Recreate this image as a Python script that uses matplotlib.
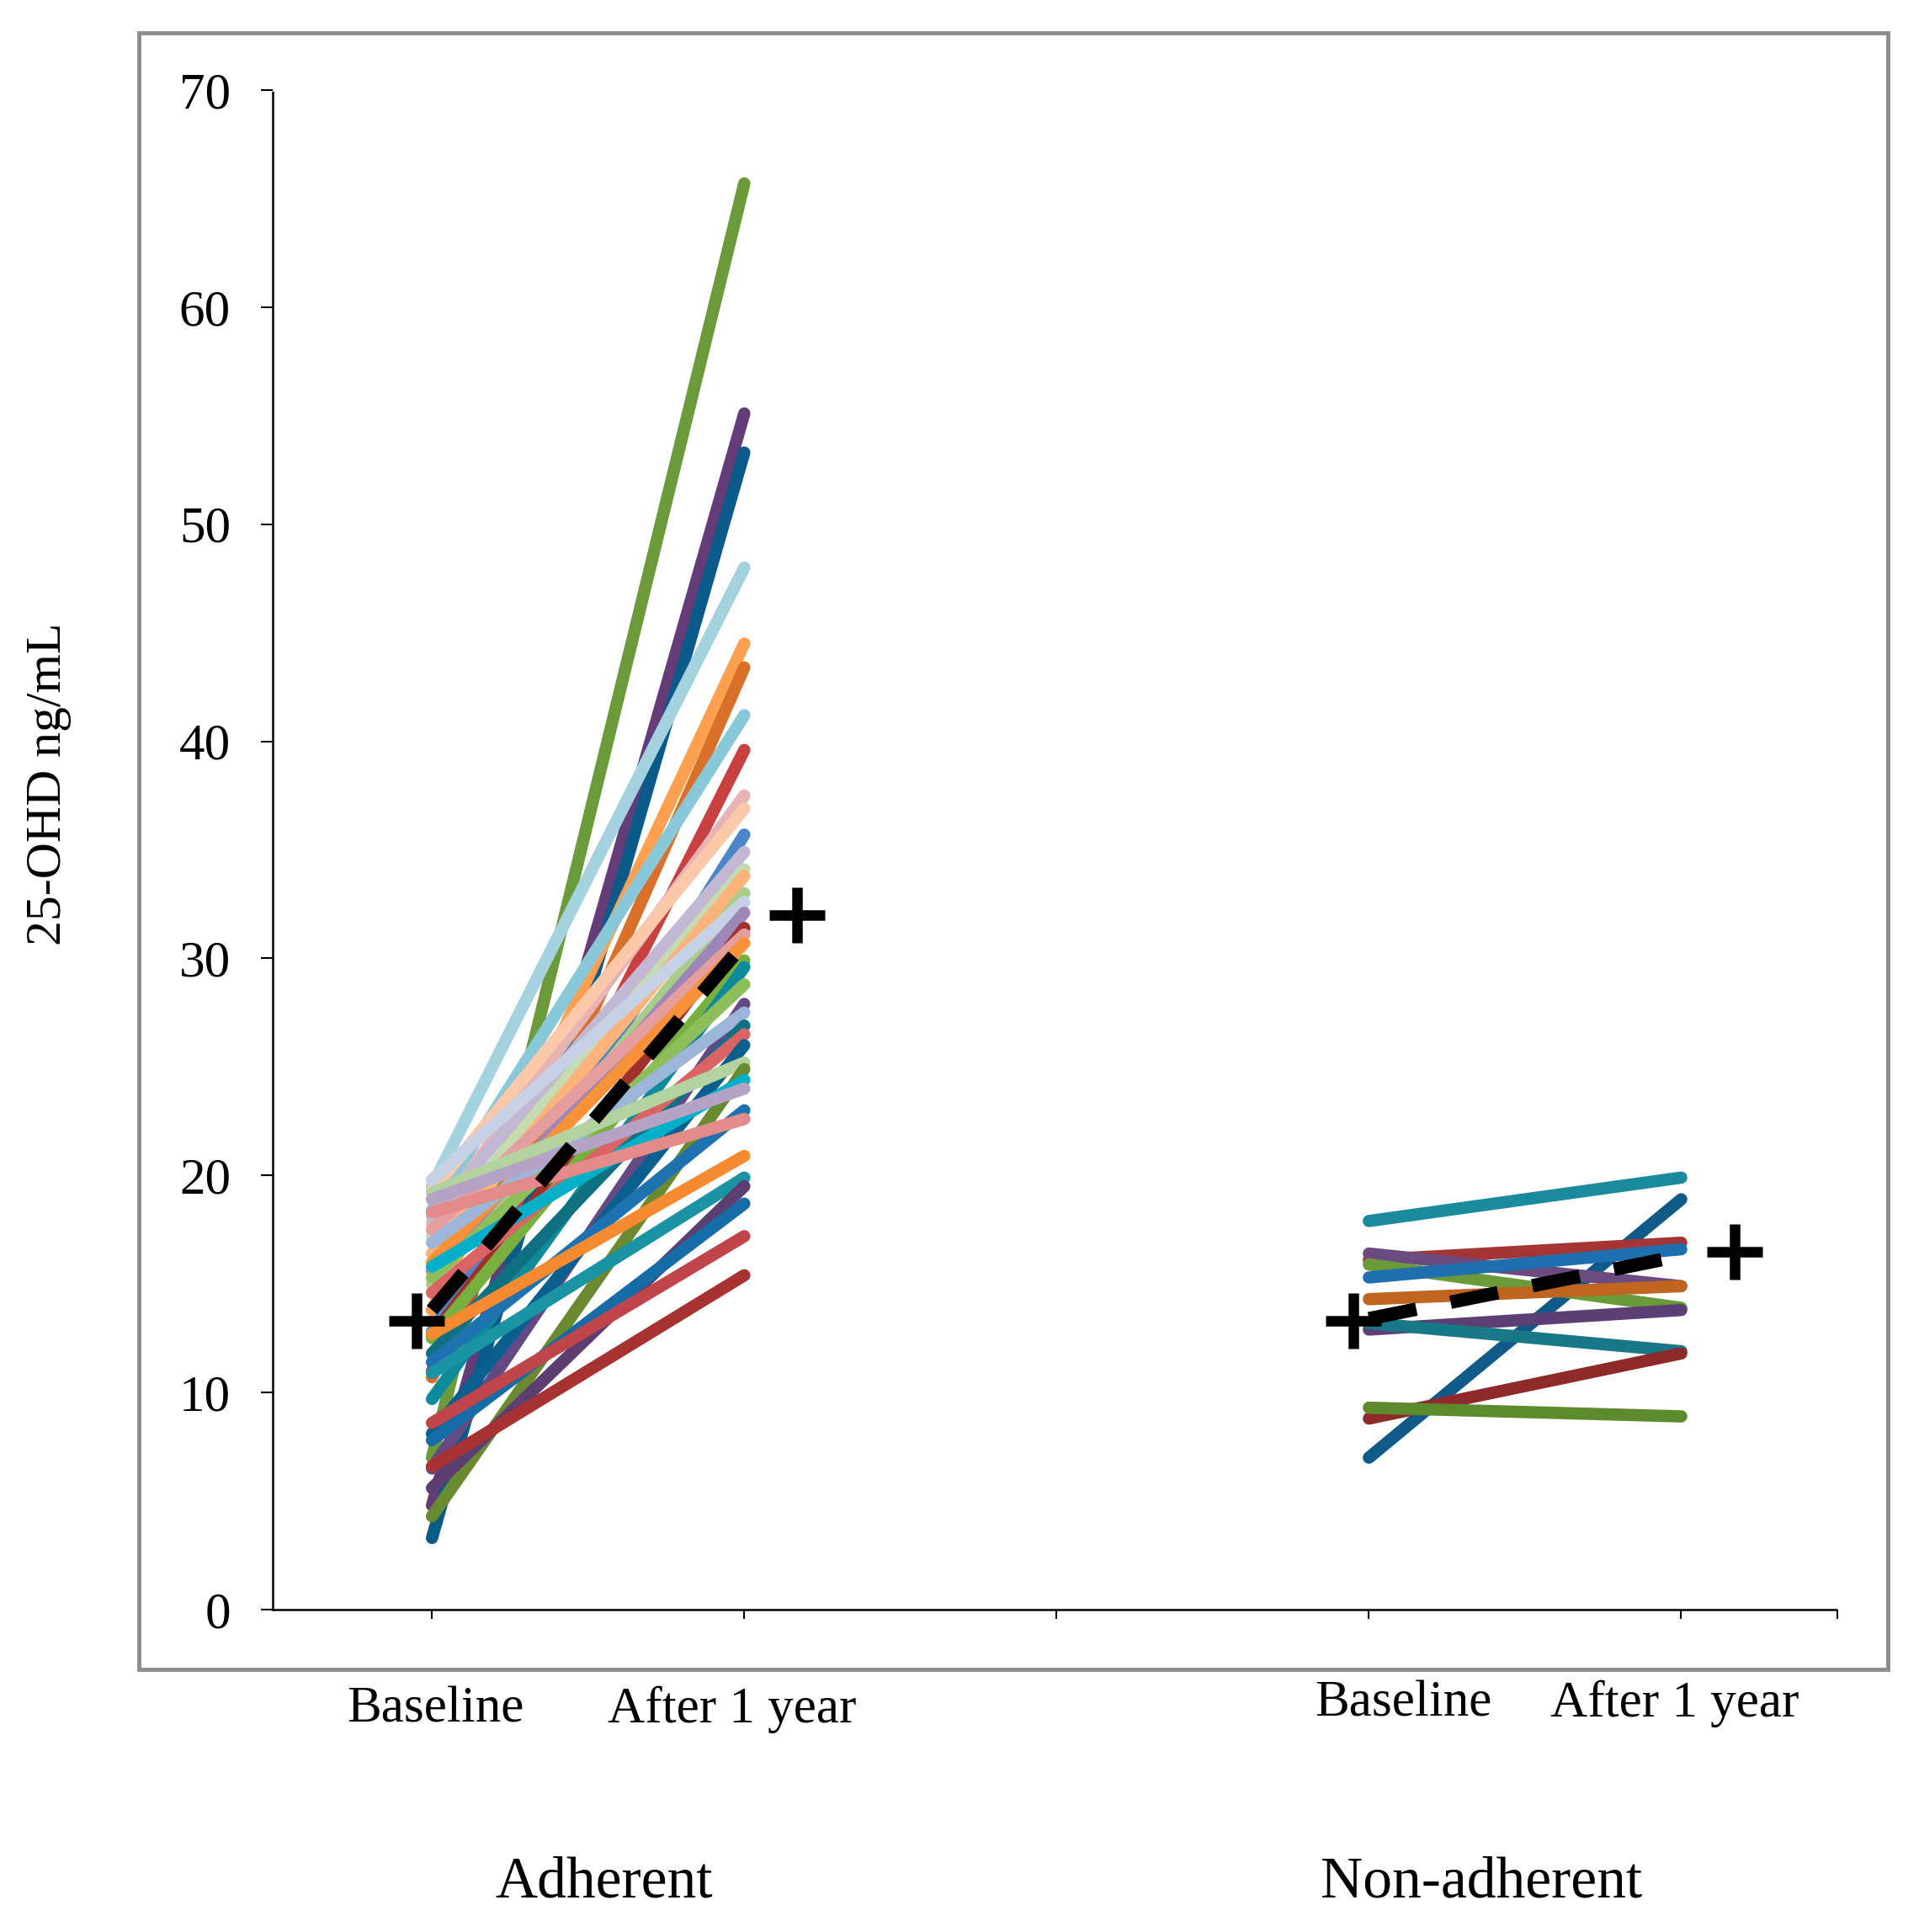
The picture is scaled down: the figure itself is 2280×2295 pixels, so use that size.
"""25-OHD before/after chart."""

import matplotlib

matplotlib.use("Agg")
from matplotlib import pyplot as plt
from matplotlib.patches import Rectangle

plt.rcParams["font.family"] = ["Liberation Serif", "DejaVu Serif"]

# category slots: 0,1 adherent / 3,4 non-adherent
period_labels = ["Baseline", "After 1 year", "Baseline", "After 1 year"]
group_labels = ["Adherent", "Non-adherent"]

# adherent patients
adh_baseline = [7.0, 4.8, 3.3, 19.5, 13.8, 10.7, 18.4, 11.0, 17.8, 19.3,
                12.8, 18.1, 17.2, 16.4, 15.0, 19.8, 15.6, 12.6, 17.5, 16.0,
                12.5, 9.7, 15.3, 6.5, 16.9, 11.8, 14.6, 8.1, 19.2, 4.3,
                15.8, 18.9, 11.4, 18.3, 12.7, 10.9, 5.6, 7.8, 8.6, 6.6]
adh_after = [65.7, 55.1, 53.3, 48.0, 44.5, 43.4, 41.2, 39.6, 37.5, 36.9,
             35.7, 34.9, 34.1, 33.8, 33.0, 32.6, 32.1, 31.4, 31.1, 30.7,
             29.9, 29.6, 28.8, 27.9, 27.5, 26.9, 26.5, 26.0, 25.2, 24.9,
             24.4, 24.0, 23.0, 22.6, 20.9, 19.9, 19.5, 18.7, 17.2, 15.4]
adh_colors = ["#6A9A3A", "#643C78", "#0A5A8A", "#A5D2DF", "#FF9F50",
              "#D8702A", "#89C8D8", "#C84040", "#E6B4B4", "#FCC8AA",
              "#4A86C8", "#C3B8D3", "#C5DCB3", "#FFB27A", "#A9CD88",
              "#C6D1E5", "#9E86B8", "#A0302A", "#E59E9E", "#F89138",
              "#78B040", "#0F8A9A", "#8DBE5A", "#644A85", "#9DB5D8",
              "#0E7080", "#DA6464", "#0B5F8E", "#B3D2A0", "#6A8A30",
              "#00B0C8", "#B5A3C6", "#1E72B0", "#E38A8A", "#F68A30",
              "#1A93A3", "#5C3F70", "#156CA6", "#C0454A", "#A83232"]

# non-adherent patients
non_baseline = [17.9, 7.0, 16.1, 16.4, 15.9, 15.3, 14.3, 12.9, 13.2, 8.8, 9.3]
non_after = [19.9, 18.9, 16.9, 14.9, 13.9, 16.6, 14.9, 13.8, 11.9, 11.8, 8.9]
non_colors = ["#1B8A9C", "#0F5A88", "#A33535", "#6B4A80", "#6A9A3A",
              "#1F6FAF", "#C0651F", "#5B3F75", "#187888", "#8E2A2A",
              "#5E8A2E"]

# group means (crosses) and trend (dashed)
adh_mean = [13.3, 32.0]
non_mean = [13.3, 16.5]
adh_trend = [13.8, 30.7]
non_trend = [13.4, 16.3]

W, H = 2280, 2295
fig = plt.figure(figsize=(W / 100, H / 100), dpi=100)
ax = fig.add_axes([324 / W, 383 / H, 1859 / W, 1805 / H])

line_kw = dict(lw=10.5, solid_capstyle="round")
for b, a, c in zip(adh_baseline, adh_after, adh_colors):
    ax.plot([0, 1], [b, a], color=c, **line_kw)
for b, a, c in zip(non_baseline, non_after, non_colors):
    ax.plot([3, 4], [b, a], color=c, **line_kw)

dash_kw = dict(color="black", lw=11.5, linestyle=(0, (3.6, 2.6)),
               dash_capstyle="butt")
ax.plot([0, 1], adh_trend, **dash_kw)
ax.plot([3, 4], non_trend, **dash_kw)

mark_kw = dict(ls="none", marker="+", ms=48, mew=9, color="black")
ax.plot([-0.05, 1.17], adh_mean, **mark_kw)
ax.plot([2.95, 4.17], non_mean, **mark_kw)

ax.set_xlim(-0.51, 4.5)
ax.set_ylim(0, 70)
ax.set_yticks(range(0, 71, 10))
ax.set_xticks([0, 1, 2, 3, 4, 4.5])
ax.set_xticklabels([])
ax.tick_params(axis="y", labelsize=44, length=10, width=1.5, pad=26)
ax.tick_params(axis="x", length=8, width=1.5)
for side in ("top", "right"):
    ax.spines[side].set_visible(False)
for side in ("left", "bottom"):
    ax.spines[side].set_linestyle((0, (1, 1)))
    ax.spines[side].set_linewidth(1.8)

trans = ax.get_xaxis_transform()
for x, y, lab in zip([0.01, 0.96, 3.11, 3.98], [-0.066, -0.066, -0.062, -0.062],
                     period_labels):
    ax.text(x, y, lab, transform=trans, ha="center", va="center", fontsize=44)
for x, lab in zip([0.55, 3.36], group_labels):
    ax.text(x, -0.18, lab, transform=trans, ha="center", va="center",
            fontsize=50)

ax.text(-0.143, 0.5435, "25-OHD ng/mL", transform=ax.transAxes, rotation=90,
        ha="center", va="center", fontsize=43)

fig.patches.append(Rectangle((165 / W, 312 / H), 2078 / W, 1944 / H,
                             transform=fig.transFigure, fill=False,
                             edgecolor="#8C8C8C", lw=3.5))

fig.savefig("out.png")
plt.close(fig)
